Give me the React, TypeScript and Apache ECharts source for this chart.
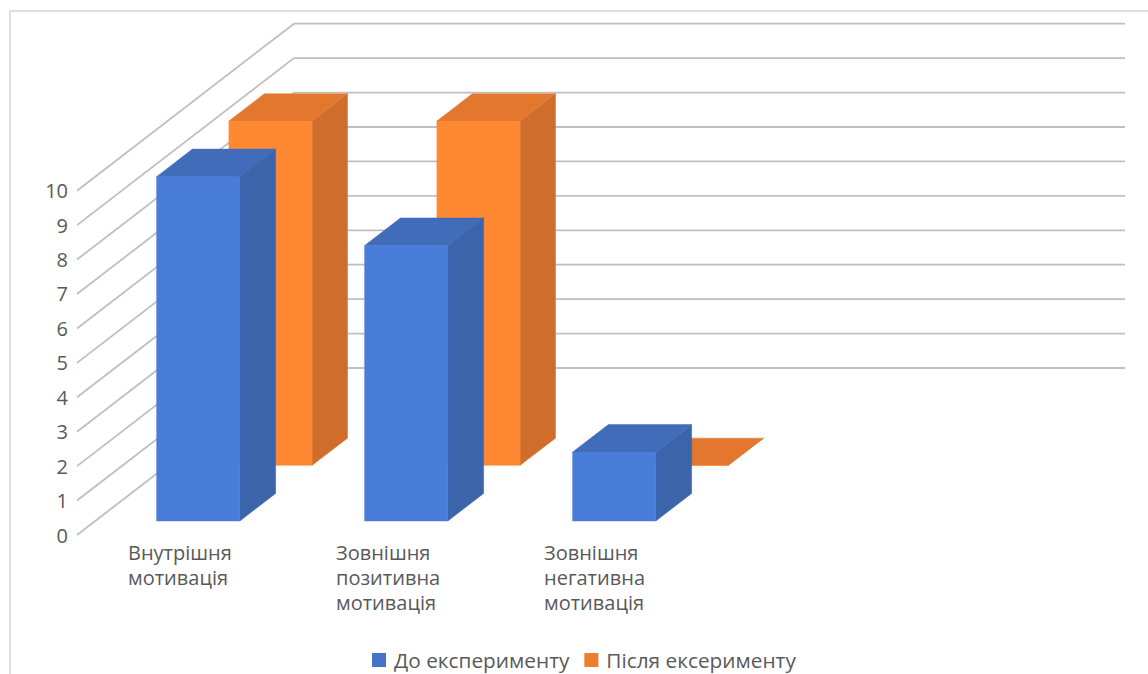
import React, { useEffect, useRef } from "react";
import * as echarts from "echarts";

const categories = ["Внутрішня\nмотивація", "Зовнішня\nпозитивна\nмотивація", "Зовнішня\nнегативна\nмотивація", ""];
const beforeName = "До експерименту";
const afterName = "Після ексерименту";
const beforeValues = [10, 8, 2];
const afterValues = [10, 10, 0];
const gridValues = [0, 1, 2, 3, 4, 5, 6, 7, 8, 9, 10];

const FONT = '"Open Sans", sans-serif';
const TEXT = "#595959";
const GRID_LINE = "#bfbfbf";

// Oblique projection: full depth of the plot moves a point this far on screen.
const DEPTH_X = 217;
const DEPTH_Y = 167;
const BAR_RATIO = 0.4;

const blueShades = { front: "#4a7dd9", side: "#3b64ab", top: "#406cba" };
const orangeShades = { front: "#ff8833", side: "#cf6d2c", top: "#e4772e" };

const shift = (p: number[], d: number) => [p[0] + d * DEPTH_X, p[1] - d * DEPTH_Y];

function barRenderer(near: number, far: number, shades: typeof blueShades) {
  return (_params: any, api: any) => {
    const cat = api.value(0);
    const val = api.value(1);
    const half = (api.size([1, 0])[0] * BAR_RATIO) / 2;
    const base = api.coord([cat, 0]);
    const head = api.coord([cat, val]);
    const bl = [base[0] - half, base[1]];
    const br = [base[0] + half, base[1]];
    const tl = [base[0] - half, head[1]];
    const tr = [base[0] + half, head[1]];
    const poly = (pts: number[][], fill: string) => ({
      type: "polygon",
      shape: { points: pts },
      style: { fill, stroke: fill, lineWidth: 0.5 },
    });
    return {
      type: "group",
      children: [
        poly([shift(br, near), shift(br, far), shift(tr, far), shift(tr, near)], shades.side),
        poly([shift(tl, near), shift(tl, far), shift(tr, far), shift(tr, near)], shades.top),
        poly([shift(bl, near), shift(br, near), shift(tr, near), shift(tl, near)], shades.front),
      ],
    };
  };
}

// Each gridline runs up the side wall, then along the back wall.
function gridRenderer(params: any, api: any) {
  const val = api.value(0);
  const left = api.coord([0, val]);
  const cs = params.coordSys;
  const start = [cs.x + 1, left[1]];
  const end = [cs.x + cs.width, left[1]];
  return {
    type: "polyline",
    shape: { points: [start, shift(start, 1), shift(end, 1)] },
    style: { fill: "none", stroke: GRID_LINE, lineWidth: 1.8 },
  };
}

export default function App() {
  const ref = useRef<HTMLDivElement>(null);

  useEffect(() => {
    document.body.style.margin = "0";
    const chart = echarts.init(ref.current!, null, { renderer: "svg" });
    chart.setOption({
      animation: false,
      backgroundColor: "#ffffff",
      graphic: [
        {
          type: "rect",
          z: -10,
          silent: true,
          shape: { x: 10, y: 11, width: 1300, height: 800 },
          style: { fill: "#ffffff", stroke: "#dedede", lineWidth: 2 },
        },
      ],
      grid: { left: 76, width: 832, top: 190.7, height: 344.3, containLabel: false },
      legend: {
        left: 367,
        top: 644.5,
        itemWidth: 14,
        itemHeight: 14,
        itemGap: 15,
        icon: "rect",
        data: [beforeName, afterName],
        textStyle: { color: TEXT, fontFamily: FONT, fontSize: 20.8, padding: [0, 0, 0, 3] },
      },
      xAxis: {
        type: "category",
        data: categories,
        axisLine: { show: false },
        axisTick: { show: false },
        splitLine: { show: false },
        axisLabel: {
          interval: 0,
          margin: 5,
          formatter: (v: string) =>
            v
              .split("\n")
              .map((l) => `{a|${l}}`)
              .join("\n"),
          rich: {
            a: { width: 104, align: "left", color: TEXT, fontFamily: FONT, fontSize: 20, lineHeight: 25 },
          },
        },
      },
      yAxis: {
        type: "value",
        min: 0,
        max: 10,
        interval: 1,
        axisLine: { show: false },
        axisTick: { show: false },
        splitLine: { show: false },
        axisLabel: { color: TEXT, fontFamily: FONT, fontSize: 20, margin: 8 },
      },
      series: [
        {
          type: "custom",
          name: "grid",
          silent: true,
          data: gridValues.map((v) => [v]),
          encode: { y: 0 },
          renderItem: gridRenderer,
          z: 1,
        },
        {
          type: "custom",
          name: afterName,
          itemStyle: { color: "#ed7d31" },
          data: afterValues.map((v, i) => [i, v]),
          encode: { x: 0, y: 1 },
          renderItem: barRenderer(0.417, 0.58, orangeShades),
          z: 2,
        },
        {
          type: "custom",
          name: beforeName,
          itemStyle: { color: "#4472c4" },
          data: beforeValues.map((v, i) => [i, v]),
          encode: { x: 0, y: 1 },
          renderItem: barRenderer(0.084, 0.249, blueShades),
          z: 3,
        },
      ],
    });
    return () => chart.dispose();
  }, []);

  return <div ref={ref} style={{ width: 1148, height: 674 }} />;
}
